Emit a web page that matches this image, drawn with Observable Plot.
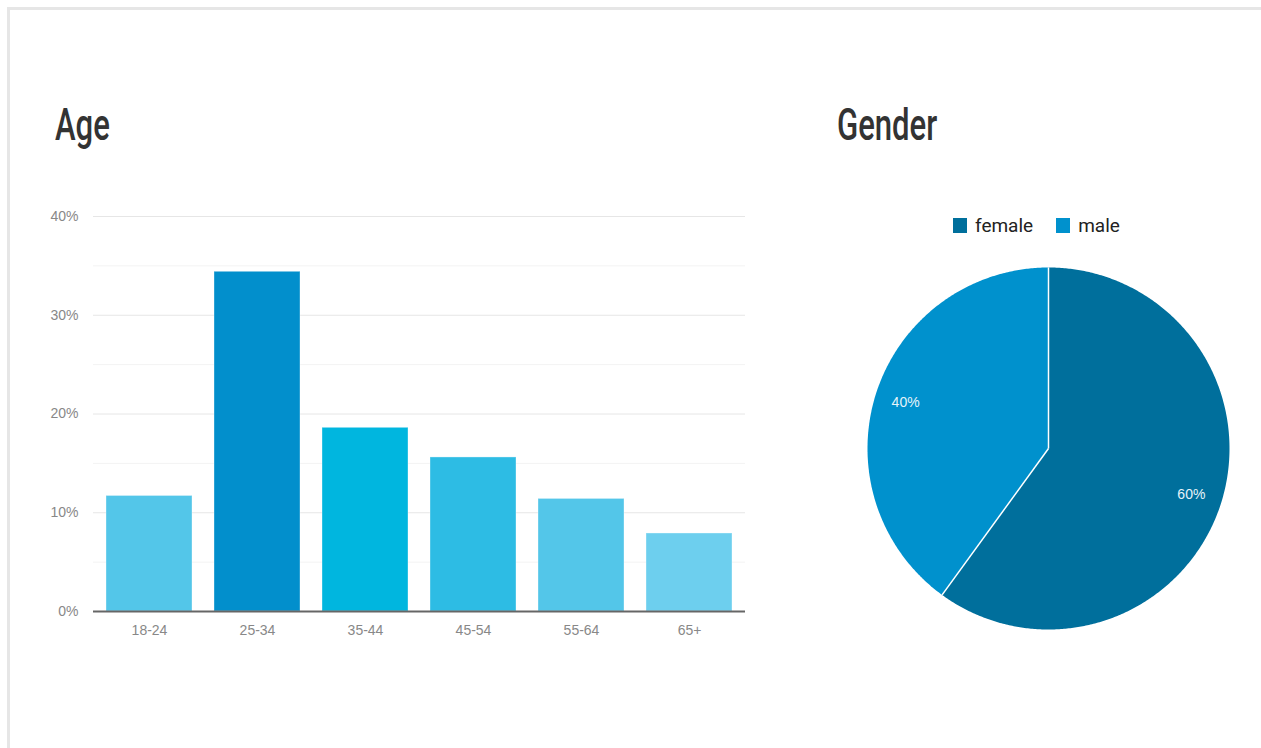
<!DOCTYPE html>
<html><head><meta charset="utf-8">
<script src="https://cdn.jsdelivr.net/npm/d3@7"></script>
<script src="https://cdn.jsdelivr.net/npm/@observablehq/plot@0.6"></script>
<style>
body{margin:0;background:#fff;width:1261px;height:748px;overflow:hidden;position:relative;font-family:Roboto,sans-serif}
#frame{position:absolute;left:7px;top:7px;width:1300px;height:800px;border-top:3px solid #e6e6e6;border-left:3px solid #e6e6e6;box-sizing:border-box}
.title{position:absolute;font-size:45px;line-height:45px;color:#333;transform:scaleX(0.69);transform-origin:0 0;white-space:nowrap;font-family:Roboto,sans-serif;font-weight:500}
#bar{position:absolute;left:0;top:200px}
#pie{position:absolute;left:865px;top:265px}
#legend{position:absolute;left:953px;top:214px;font-size:19px;color:#222;display:flex;align-items:center;white-space:nowrap}
#legend .sw{display:inline-block;width:14px;height:15px;margin-right:8px}
#legend .item{display:flex;align-items:center;margin-right:23px}
</style></head>
<body>
<div id="frame"></div>
<div class="title" style="left:55px;top:102px">Age</div>
<div class="title" style="left:837px;top:102px">Gender</div>
<div id="bar"></div>
<div id="legend"></div>
<div id="pie"></div>
<script>
const ageGroups = ["18-24","25-34","35-44","45-54","55-64","65+"];
const agePercent = [11.7, 34.4, 18.6, 15.6, 11.4, 7.9];
const ageColors = ["#53c6e9","#028fcc","#00b6df","#2dbce4","#53c6e9","#6dcfee"];
const yTicks = [0,10,20,30,40];
const yMinorTicks = [5,15,25,35];

const genders = ["female","male"];
const genderPercent = [60, 40];
const genderColors = ["#006f9c","#0091cd"];

const ageData = ageGroups.map((g,i)=>({group:g, value:agePercent[i], color:ageColors[i]}));
const tickFont = "'Liberation Sans', Arial, sans-serif";

const bar = Plot.plot({
  width: 760, height: 451,
  marginLeft: 93, marginRight: 15, marginTop: 16, marginBottom: 40,
  style: {fontFamily: tickFont, fontSize: "14px", color: "#888", background: "transparent"},
  x: {domain: ageGroups, paddingInner: 0.2, paddingOuter: 0.107, label: null},
  y: {domain: [0,40], label: null},
  marks: [
    Plot.ruleY(yMinorTicks, {stroke: "#f3f3f3", strokeWidth: 1}),
    Plot.ruleY(yTicks.filter(d=>d>0), {stroke: "#e6e6e6", strokeWidth: 1}),
    Plot.barY(ageData, {x: "group", y: "value", fill: "color", stroke: "#ffffff", strokeOpacity: 0.35, strokeWidth: 1}),
    Plot.ruleY([0], {stroke: "#666", strokeWidth: 2}),
    Plot.axisX({tickSize: 0, tickPadding: 14, fontSize: 14, fill: "#888", label: null}),
    Plot.axisY({ticks: yTicks, tickFormat: d => d + "%", tickSize: 0, tickPadding: 15, fontSize: 14, fill: "#888", label: null})
  ]
});
document.getElementById("bar").appendChild(bar);

// legend
const leg = document.getElementById("legend");
genders.forEach((g,i)=>{
  const it = document.createElement("div"); it.className="item";
  const sw = document.createElement("span"); sw.className="sw"; sw.style.background = genderColors[i];
  it.appendChild(sw); it.appendChild(document.createTextNode(g));
  leg.appendChild(it);
});

// pie
const arcs = d3.pie().sort(null).value(d=>d)(genderPercent);
const polyPts = [];
const seps = [];
const labels = [];
arcs.forEach((a,i)=>{
  polyPts.push({g: genders[i], x: 0, y: 0, c: genderColors[i]});
  const n = Math.max(2, Math.ceil((a.endAngle - a.startAngle) / (Math.PI/360)));
  for (let k=0;k<=n;k++){
    const t = a.startAngle + (a.endAngle - a.startAngle)*k/n;
    polyPts.push({g: genders[i], x: Math.sin(t), y: Math.cos(t), c: genderColors[i]});
  }
  seps.push({x1:0, y1:0, x2: Math.sin(a.startAngle), y2: Math.cos(a.startAngle)});
  const m = (a.startAngle + a.endAngle)/2;
  labels.push({x: 0.83*Math.sin(m), y: 0.83*Math.cos(m), text: genderPercent[i] + "%"});
});

const pie = Plot.plot({
  width: 366, height: 366, margin: 2,
  x: {domain: [-1,1], axis: null},
  y: {domain: [-1,1], axis: null},
  style: {fontFamily: tickFont, background: "transparent"},
  marks: [
    Plot.line(polyPts, {x: "x", y: "y", z: "g", fill: "c", stroke: "none", curve: "linear-closed"}),
    Plot.link(seps, {x1: "x1", y1: "y1", x2: "x2", y2: "y2", stroke: "#ffffff", strokeWidth: 1.5}),
    Plot.text(labels, {x: "x", y: "y", text: "text", fill: "#e6f3f9", fontSize: 14, fontFamily: tickFont})
  ]
});
document.getElementById("pie").appendChild(pie);
</script>
</body></html>
